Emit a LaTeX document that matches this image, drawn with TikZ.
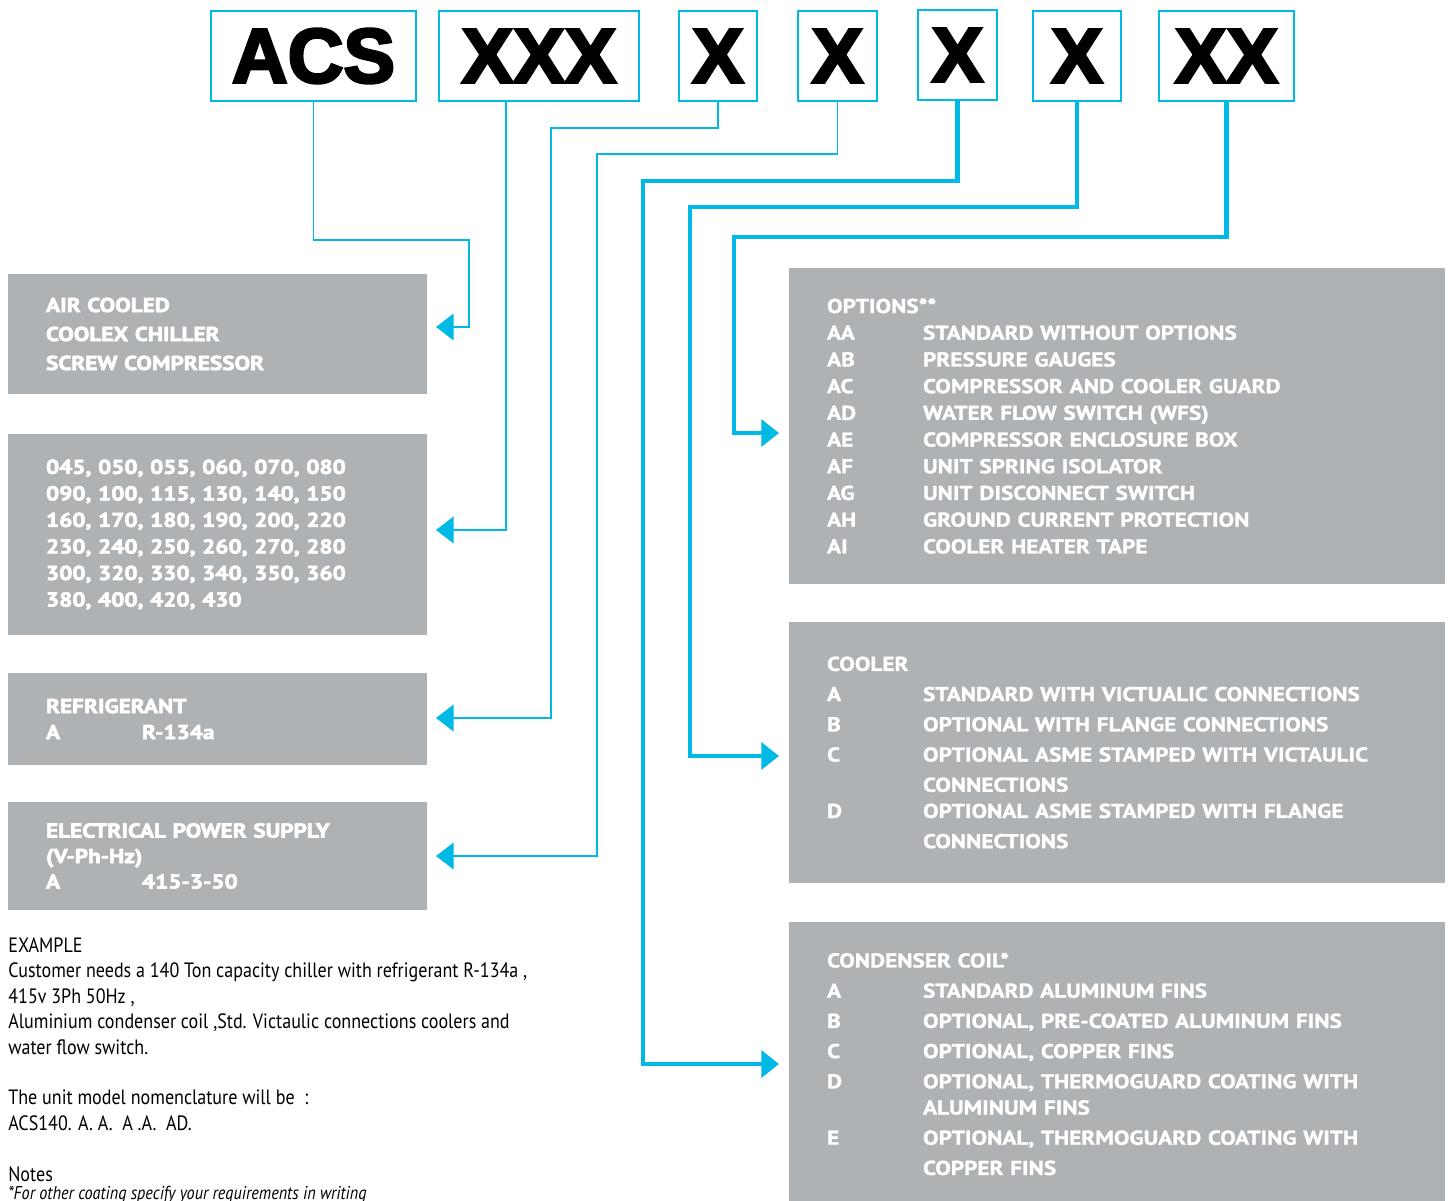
\documentclass[tikz,border=0pt]{standalone}
\usepackage{fontspec}
\setmainfont{PT Sans}
\newfontfamily\codefont[FakeBold=3.5]{Liberation Sans}
\newfontfamily\notefont[FakeStretch=0.87]{PT Sans}
\newfontfamily\leftfont[FakeStretch=1.16,FakeBold=3]{PT Sans}
\newfontfamily\rightfont[FakeStretch=1.16,FakeBold=1.2]{PT Sans}
\usepackage{tikz}
\usetikzlibrary{arrows.meta}
\definecolor{acscyan}{RGB}{0,185,228}
\definecolor{acsgray}{RGB}{175,178,181}
\newcommand{\code}[1]{\makebox[1.92cm][l]{#1}}

\begin{document}
\begin{tikzpicture}[x=0.02cm,y=-0.02cm,
  digit/.style={draw=acscyan,line width=1.4pt,fill=white,minimum height=1.8cm,
                inner sep=0pt,font=\codefont\bfseries\fontsize{44}{44}\selectfont},
  panel/.style={fill=acsgray,text=white,align=left,inner xsep=0.76cm,inner ysep=0pt},
  leading/.style={font=\leftfont\bfseries\fontsize{11.4}{#1}\selectfont},
  rleading/.style={font=\rightfont\bfseries\fontsize{11.4}{#1}\selectfont},
  link/.style={acscyan,line width=1.1pt,-{Triangle[length=0.354cm,width=0.534cm]}},
  thick link/.style={link,line width=2.6pt}]
\useasboundingbox (0,0) rectangle (1453,1200);

%% ---------- code boxes ----------
\node[digit,minimum width=4.1cm](acs) at (313.5,56){ACS};
\node[digit,minimum width=4.0cm](xxx) at (539,56){XXX};
\node[digit,minimum width=1.56cm](x1) at (718,56){X};
\node[digit,minimum width=1.58cm](x2) at (837.5,56){X};
\node[digit,minimum width=1.58cm](x3) at (957.5,55){X};
\node[digit,minimum width=1.76cm](x4) at (1077,56){X};
\node[digit,minimum width=2.7cm](xx) at (1226.5,56){XX};

%% ---------- left panels ----------
\node[panel,leading=16.5pt,text width=6.86cm,minimum height=2.4cm](air) at (217.5,334)
  {AIR COOLED\\COOLEX CHILLER\\SCREW COMPRESSOR};
\node[panel,leading=15.1pt,text width=6.86cm,minimum height=4.02cm](size) at (217.5,534.5)
  {045, 050, 055, 060, 070, 080\\090, 100, 115, 130, 140, 150\\
   160, 170, 180, 190, 200, 220\\230, 240, 250, 260, 270, 280\\
   300, 320, 330, 340, 350, 360\\380, 400, 420, 430};
\node[panel,leading=14.8pt,text width=6.86cm,minimum height=1.84cm](ref) at (217.5,719)
  {REFRIGERANT\\\code{A}R-134a};
\node[panel,leading=14.5pt,text width=6.86cm,minimum height=2.16cm](pow) at (217.5,856)
  {ELECTRICAL POWER SUPPLY\\(V-Ph-Hz)\\\code{A}415-3-50};

%% ---------- right panels ----------
\node[panel,rleading=15.2pt,text width=11.6cm,minimum height=6.32cm](opt) at (1117,426)
  {OPTIONS**\\
   \code{AA}STANDARD WITHOUT OPTIONS\\
   \code{AB}PRESSURE GAUGES\\
   \code{AC}COMPRESSOR AND COOLER GUARD\\
   \code{AD}WATER FLOW SWITCH (WFS)\\
   \code{AE}COMPRESSOR ENCLOSURE BOX\\
   \code{AF}UNIT SPRING ISOLATOR\\
   \code{AG}UNIT DISCONNECT SWITCH\\
   \code{AH}GROUND CURRENT PROTECTION\\
   \code{AI}COOLER HEATER TAPE};
\node[panel,rleading=17.2pt,text width=11.6cm,minimum height=5.22cm](cool) at (1117,752.5)
  {COOLER\\
   \code{A}STANDARD WITH VICTUALIC CONNECTIONS\\
   \code{B}OPTIONAL WITH FLANGE CONNECTIONS\\
   \code{C}OPTIONAL ASME STAMPED WITH VICTAULIC\\
   \code{}CONNECTIONS\\[-2.3pt]
   \code{D}OPTIONAL ASME STAMPED WITH FLANGE\\
   \code{}CONNECTIONS};
\node[panel,rleading=17.2pt,text width=11.6cm,minimum height=5.68cm](coil) at (1117,1064)
  {CONDENSER COIL*\\
   \code{A}STANDARD ALUMINUM FINS\\
   \code{B}OPTIONAL, PRE-COATED ALUMINUM FINS\\
   \code{C}OPTIONAL, COPPER FINS\\
   \code{D}OPTIONAL, THERMOGUARD COATING WITH\\[-2.3pt]
   \code{}ALUMINUM FINS\\
   \code{E}OPTIONAL, THERMOGUARD COATING WITH\\
   \code{}COPPER FINS};

%% ---------- example text ----------
\node[anchor=north west,align=left,inner sep=0pt,
      font=\notefont\fontsize{11.8}{14.5}\selectfont](note) at (8,937)
  {EXAMPLE\\
   Customer needs a 140 Ton capacity chiller with refrigerant R-134a ,\\
   415v 3Ph 50Hz ,\\
   Aluminium condenser coil ,Std. Victaulic connections coolers and\\
   water flow switch.\\[14.5pt]
   The unit model nomenclature will be \ :\\
   ACS140. A. A. \ A .A. \ AD.\\[14.5pt]
   Notes};
\node[anchor=north west,inner sep=0pt,
      font=\notefont\itshape\fontsize{10.6}{12}\selectfont](foot) at (8,1186)
  {*For other coating specify your requirements in writing};

%% ---------- connectors ----------
\coordinate (airIn) at (436,327);
\coordinate (sizeIn) at (436,530);
\coordinate (refIn) at (436,718);
\coordinate (powIn) at (436,856);
\coordinate (optIn) at (779,433);
\coordinate (coolIn) at (779,756);
\coordinate (coilIn) at (779,1064);

% thin ones to the left
\draw[link](acs.south) |- (469,240) |- (airIn);
\draw[link]([xshift=-0.66cm]xxx.south) |- (sizeIn);
\draw[link](x1.south) |- (551,128) |- (refIn);
\draw[link](x2.south) |- (597,154) |- (powIn);
% thick ones to the right
\draw[thick link](x3.south) |- (643,181) |- (coilIn);
\draw[thick link](x4.south) |- (690,207) |- (coolIn);
\draw[thick link](xx.south) |- (734,237) |- (optIn);

\end{tikzpicture}
\end{document}
